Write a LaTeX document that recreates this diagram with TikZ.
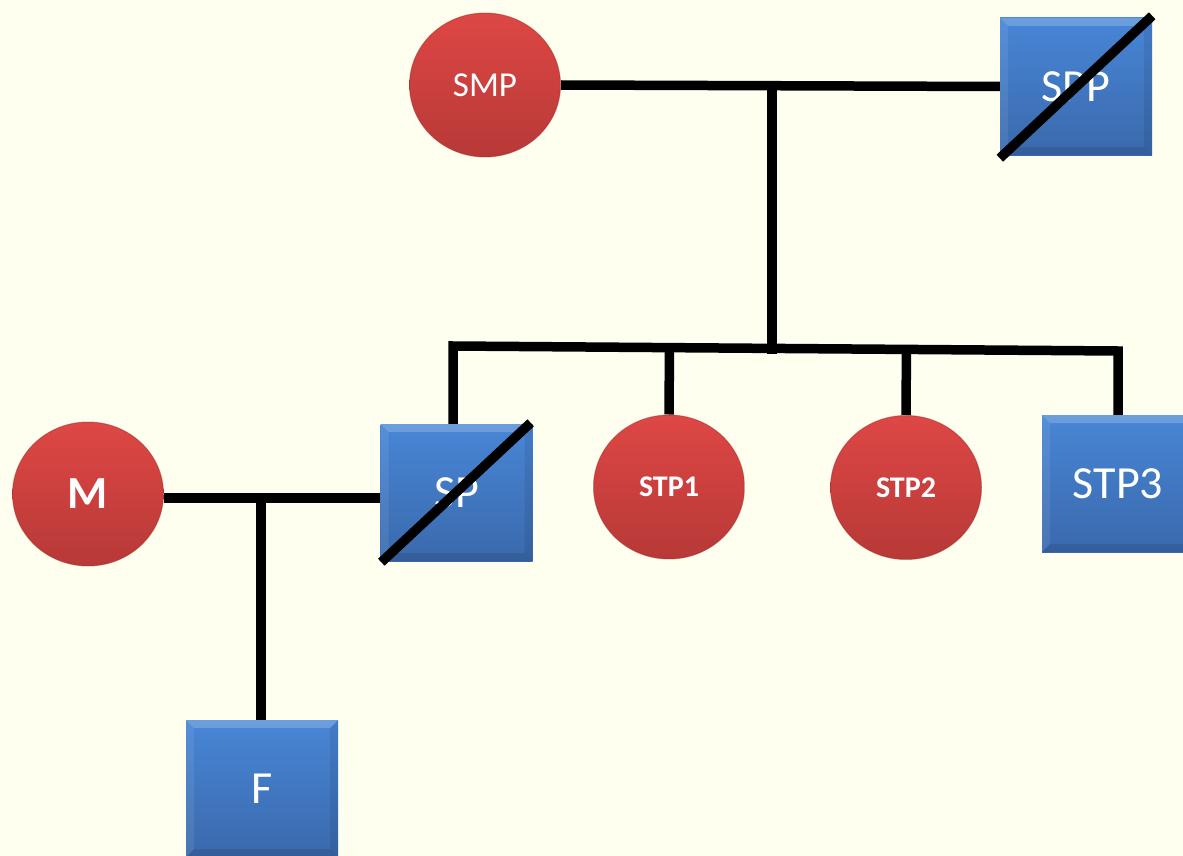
\documentclass[tikz,border=0pt]{standalone}
\usepackage{fontspec}
\setmainfont{Carlito}
\usetikzlibrary{calc,shapes.geometric}

\definecolor{paper}{HTML}{FFFFF0}
\definecolor{redtop}{HTML}{DE4745}
\definecolor{redbot}{HTML}{B73937}
\definecolor{redrim}{HTML}{9E2C2B}
\definecolor{bluetop}{HTML}{4886D6}
\definecolor{bluebot}{HTML}{3A69AC}

\tikzset{
  female/.style={ellipse, minimum width=151pt, minimum height=144pt, inner sep=0pt,
    top color=redtop, bottom color=redbot, draw=redrim, draw opacity=.45, line width=1pt,
    text=white},
  male/.style={rectangle, minimum width=152pt, minimum height=137pt, inner sep=0pt,
    top color=bluetop, bottom color=bluebot, text=white,
    path picture={
      % bevelled edges of the square
      \fill[white,opacity=.20] (path picture bounding box.north west) -- (path picture bounding box.north east)
        -- ([shift={(-8pt,-8pt)}]path picture bounding box.north east) -- ([shift={(8pt,-8pt)}]path picture bounding box.north west) -- cycle;
      \fill[white,opacity=.08] (path picture bounding box.north west) -- (path picture bounding box.south west)
        -- ([shift={(8pt,8pt)}]path picture bounding box.south west) -- ([shift={(8pt,-8pt)}]path picture bounding box.north west) -- cycle;
      \fill[black,opacity=.08] (path picture bounding box.north east) -- (path picture bounding box.south east)
        -- ([shift={(-8pt,8pt)}]path picture bounding box.south east) -- ([shift={(-8pt,-8pt)}]path picture bounding box.north east) -- cycle;
      \fill[black,opacity=.10] (path picture bounding box.south west) -- (path picture bounding box.south east)
        -- ([shift={(-8pt,8pt)}]path picture bounding box.south east) -- ([shift={(8pt,8pt)}]path picture bounding box.south west) -- cycle;
    }},
  big/.style={font=\fontsize{46}{50}\selectfont},
  mid/.style={font=\fontsize{35}{40}\selectfont},
  bigbold/.style={font=\fontsize{46}{50}\selectfont\bfseries},
  smallbold/.style={font=\fontsize{30}{34}\selectfont\bfseries},
  link/.style={line width=9.5pt, black, line join=miter},
  deceased/.style={line width=9.5pt, black, line cap=butt},
}

\begin{document}
\begin{tikzpicture}[x=1pt, y=-1pt]
  \fill[paper] (0,0) rectangle (1183,856);
  \useasboundingbox (0,0) rectangle (1183,856);

  % grandparents
  \node[female, mid] (smp) at (485,85) {SMP};
  \node[male, big] (spp) at (1076,86.5) {SPP};

  % parents' generation
  \node[male, big] (sp) at (456.5,492.5) {SP};
  \node[female, smallbold] (stp1) at (669,487) {STP1};
  \node[female, smallbold] (stp2) at (906,487.5) {STP2};
  \node[male, big] (stp3) at (1118,483.5) {STP3};

  % mother and child
  \node[female, bigbold] (m) at (88,494) {M};
  \node[male, big] (f) at (262,788.5) {F};

  % junction points of the family lines
  \coordinate (jt) at (772,85);
  \coordinate (bl) at (453,346);
  \coordinate (br) at (1118,351);
  \coordinate (jb) at (772,354);
  \coordinate (jm) at (261,498);

  % couple SMP -- SPP and their children
  \draw[link] (smp.east) -- (spp.west);
  \draw[link] (jt) -- (jb);
  \draw[link] (sp.north -| bl) -- (bl) -- (br) -- (stp3.north);
  \draw[link] (stp1.north) -- ($(bl)!(stp1.north)!(br)$);
  \draw[link] (stp2.north) -- ($(bl)!(stp2.north)!(br)$);

  % couple M -- SP and their child
  \draw[link] (m.east |- jm) -- (sp.west |- jm);
  \draw[link] (jm) -- (f.north -| jm);

  % deceased marks
  \draw[deceased] ([shift={(0,3)}]spp.south west) -- ([shift={(0,-2)}]spp.north east);
  \draw[deceased] ([shift={(1,1)}]sp.south west) -- ([shift={(-2,-1)}]sp.north east);
\end{tikzpicture}
\end{document}
